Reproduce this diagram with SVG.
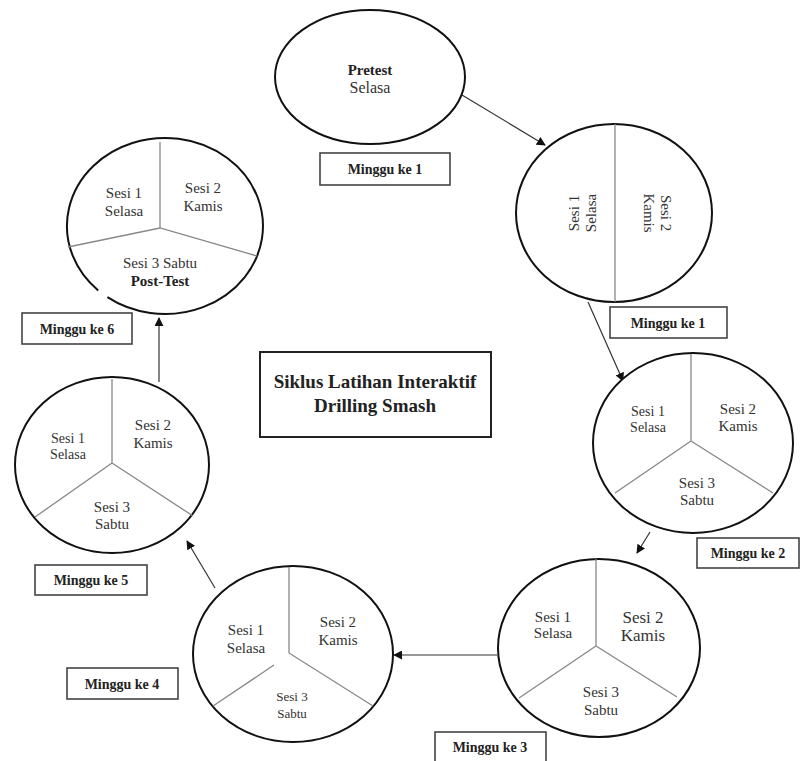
<svg xmlns="http://www.w3.org/2000/svg" width="802" height="761" viewBox="0 0 802 761">
<style>
.c{fill:#fff;stroke:#111;stroke-width:2}
.d{stroke:#888;stroke-width:1.3;fill:none}
.t{font-family:"Liberation Serif",serif;font-size:15px;fill:#333;text-anchor:middle}
.b{font-family:"Liberation Serif",serif;font-size:14px;font-weight:bold;fill:#222;text-anchor:middle}
.box{fill:#fff;stroke:#444;stroke-width:1.6}
.a{stroke:#333;stroke-width:1.2;fill:none;marker-end:url(#ah)}
</style>
<defs>
<marker id="ah" viewBox="0 0 10 10" refX="9" refY="5" markerWidth="9" markerHeight="9" markerUnits="userSpaceOnUse" orient="auto">
<path d="M0,0 L10,5 L0,10 z" fill="#111"/>
</marker>
</defs>
<rect width="802" height="761" fill="#fff"/>
<g id="connectors">
<line class="a" x1="462" y1="95" x2="545" y2="145"/>
<line class="a" x1="588" y1="302" x2="623" y2="381"/>
<line class="a" x1="650" y1="532" x2="637" y2="553"/>
<line class="a" x1="497" y1="655" x2="394" y2="655"/>
<line class="a" x1="215" y1="588" x2="187" y2="541"/>
<line class="a" x1="159" y1="382" x2="159" y2="318"/>
</g>
<g id="pretest">
<ellipse class="c" cx="370" cy="77" rx="95" ry="67"/>
<text class="t" x="370" y="75" style="font-weight:bold;fill:#222">Pretest</text>
<text class="t" x="370" y="93" style="font-size:16px">Selasa</text>
</g>
<g id="label-w1a"><rect class="box" x="320" y="153" width="130" height="32"/><text class="b" x="385" y="174">Minggu ke 1</text></g>
<g id="week1">
<ellipse class="c" cx="614" cy="213" rx="98" ry="89"/>
<line class="d" x1="615" y1="124" x2="615" y2="302"/>
<text class="t" transform="translate(582,213) rotate(-90)" x="0" y="-3">Sesi 1</text>
<text class="t" transform="translate(582,213) rotate(-90)" x="0" y="14">Selasa</text>
<text class="t" transform="translate(658,213) rotate(90)" x="0" y="-3">Sesi 2</text>
<text class="t" transform="translate(658,213) rotate(90)" x="0" y="14">Kamis</text>
</g>
<g id="label-w1b"><rect class="box" x="610" y="307" width="117" height="31"/><text class="b" x="668" y="328">Minggu ke 1</text></g>
<g id="week2">
<ellipse class="c" cx="693" cy="443" rx="100" ry="90"/>
<path class="d" d="M691,354 L691,441 M615,493 L691,441 L773,493"/>
<text class="t" x="648" y="416" style="font-size:14px">Sesi 1</text>
<text class="t" x="648" y="432" style="font-size:14px">Selasa</text>
<text class="t" x="738" y="414">Sesi 2</text>
<text class="t" x="738" y="431">Kamis</text>
<text class="t" x="697" y="488">Sesi 3</text>
<text class="t" x="697" y="505">Sabtu</text>
</g>
<g id="label-w2"><rect class="box" x="697" y="538" width="102" height="30"/><text class="b" x="748" y="558">Minggu ke 2</text></g>
<g id="week3">
<ellipse class="c" cx="599" cy="648" rx="101" ry="89"/>
<path class="d" d="M596,559 L596,646 M519,698 L596,646 L677,697"/>
<text class="t" x="553" y="622">Sesi 1</text>
<text class="t" x="553" y="638">Selasa</text>
<text class="t" x="643" y="623" style="font-size:17px">Sesi 2</text>
<text class="t" x="643" y="641" style="font-size:17px">Kamis</text>
<text class="t" x="601" y="697">Sesi 3</text>
<text class="t" x="601" y="715">Sabtu</text>
</g>
<g id="label-w3"><rect class="box" x="435" y="732" width="111" height="35"/><text class="b" x="490" y="752">Minggu ke 3</text></g>
<g id="week4">
<ellipse class="c" cx="293" cy="654" rx="100" ry="88"/>
<path class="d" d="M289,567 L289,653 L373,706 M213,706 L274,665"/>
<text class="t" x="246" y="635">Sesi 1</text>
<text class="t" x="246" y="653">Selasa</text>
<text class="t" x="338" y="627">Sesi 2</text>
<text class="t" x="338" y="645">Kamis</text>
<text class="t" x="292" y="701" style="font-size:13px">Sesi 3</text>
<text class="t" x="292" y="718" style="font-size:13px">Sabtu</text>
</g>
<g id="label-w4"><rect class="box" x="67" y="668" width="111" height="31"/><text class="b" x="122" y="689">Minggu ke 4</text></g>
<g id="week5">
<ellipse class="c" cx="112" cy="465" rx="97" ry="88"/>
<path class="d" d="M112,379 L112,463 M35,517 L112,463 L193,516"/>
<text class="t" x="68" y="443" style="font-size:14px">Sesi 1</text>
<text class="t" x="68" y="459" style="font-size:14px">Selasa</text>
<text class="t" x="153" y="430">Sesi 2</text>
<text class="t" x="153" y="448">Kamis</text>
<text class="t" x="112" y="512">Sesi 3</text>
<text class="t" x="112" y="529">Sabtu</text>
</g>
<g id="label-w5"><rect class="box" x="35" y="565" width="112" height="30"/><text class="b" x="91" y="585">Minggu ke 5</text></g>
<g id="week6">
<path class="c" d="M107.4,297.2 A98,88 0 1 0 98.2,290.4"/>
<path class="d" d="M160,142 L160,228 M68,247 L160,228 L257,256"/>
<text class="t" x="124" y="198">Sesi 1</text>
<text class="t" x="124" y="216">Selasa</text>
<text class="t" x="203" y="193">Sesi 2</text>
<text class="t" x="203" y="211">Kamis</text>
<text class="t" x="160" y="268">Sesi 3 Sabtu</text>
<text class="t" x="160" y="286" style="font-weight:bold;fill:#222">Post-Test</text>
</g>
<g id="label-w6"><rect class="box" x="22" y="313" width="110" height="31"/><text class="b" x="77" y="334">Minggu ke 6</text></g>
<g id="title">
<rect class="box" x="260" y="352" width="231" height="85" style="stroke:#222;stroke-width:2"/>
<text class="b" x="375" y="388" style="font-size:19px">Siklus Latihan Interaktif</text>
<text class="b" x="375" y="412" style="font-size:19px">Drilling Smash</text>
</g>
</svg>
